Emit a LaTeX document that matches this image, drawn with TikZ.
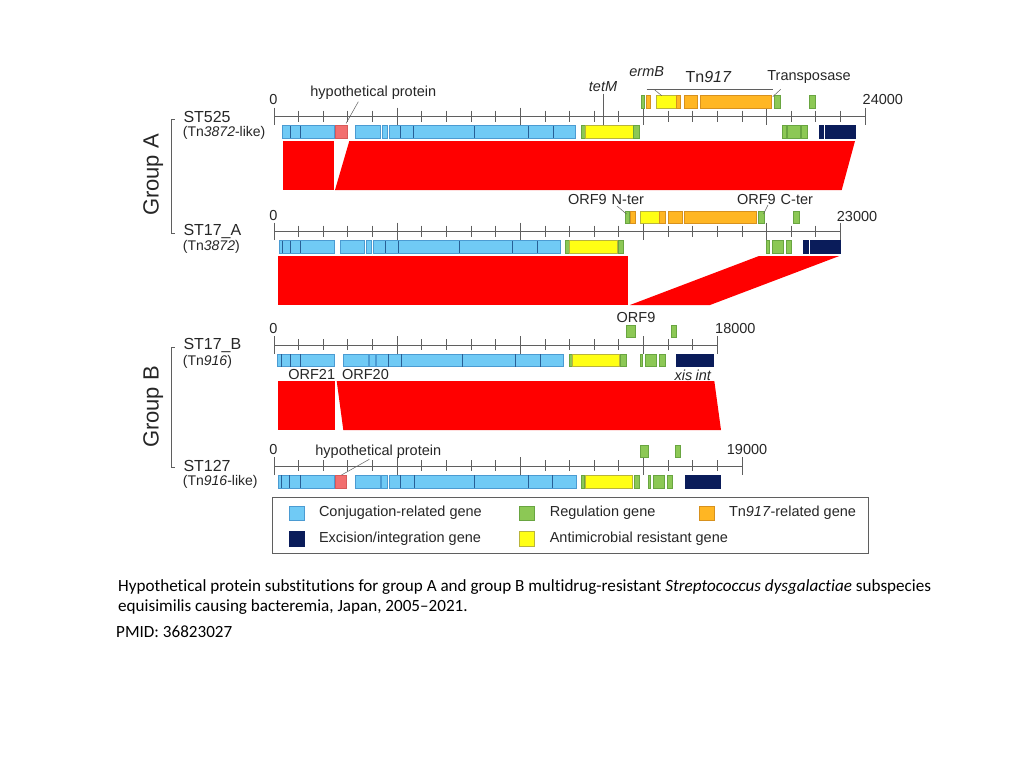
\documentclass[tikz,border=0pt]{standalone}
\usepackage{fontspec}
\setmainfont{Liberation Sans}
\newfontfamily\capfont[Ligatures=NoCommon]{Carlito}
\usepackage{tikz}

\definecolor{conjblue}{RGB}{112,202,245}
\definecolor{conjline}{RGB}{75,155,210}
\definecolor{conjdiv}{RGB}{40,95,150}
\definecolor{regulgreen}{RGB}{140,200,85}
\definecolor{regulline}{RGB}{105,165,65}
\definecolor{tnorange}{RGB}{255,182,35}
\definecolor{tnline}{RGB}{215,145,30}
\definecolor{resyellow}{RGB}{255,255,20}
\definecolor{resline}{RGB}{185,180,60}
\definecolor{excnavy}{RGB}{10,28,90}
\definecolor{hyposalmon}{RGB}{242,110,110}
\definecolor{hypoline}{RGB}{215,90,90}
\definecolor{bandred}{RGB}{255,0,0}
\definecolor{rulegray}{RGB}{95,95,95}

\tikzstyle{conj} = [fill=conjblue, draw=conjline, line width=0.6pt]
\tikzstyle{regul} = [fill=regulgreen, draw=regulline, line width=0.6pt]
\tikzstyle{tnrel} = [fill=tnorange, draw=tnline, line width=0.6pt]
\tikzstyle{resist} = [fill=resyellow, draw=resline, line width=0.6pt]
\tikzstyle{excis} = [fill=excnavy, draw=excnavy, line width=0.6pt]
\tikzstyle{hypo} = [fill=hyposalmon, draw=hypoline, line width=0.6pt]
\tikzstyle{divider} = [draw=conjdiv, line width=0.7pt]
\tikzstyle{homol} = [fill=bandred]
\tikzstyle{ruler} = [draw=rulegray, line width=0.8pt]
\tikzstyle{leader} = [draw=rulegray, line width=0.5pt]
\tikzstyle{lbl} = [inner sep=0pt, text=black!85, font=\fontsize{14.5}{17}\selectfont]
\tikzstyle{strain} = [inner sep=0pt, anchor=west, text=black!85, font=\fontsize{16}{18}\selectfont]
\tikzstyle{element} = [inner sep=0pt, anchor=west, text=black!85, font=\fontsize{14}{16}\selectfont]
\tikzstyle{group} = [inner sep=0pt, rotate=90, text=black!85, font=\fontsize{22}{24}\selectfont]
\tikzstyle{caption} = [inner sep=0pt, anchor=west, font=\capfont\fontsize{17.1}{20}\selectfont]

\newcommand{\genebox}[4]{\draw[#1] (#2,#4) rectangle (#3,#4+12.5);}

\begin{document}
\begin{tikzpicture}[x=1pt, y=-1pt]
\useasboundingbox (0,0) rectangle (1024,768);

% Rulers
\foreach \ry/\kb in {116.7/24, 231.7/23, 345/18, 466/19} {
  \draw[ruler] (274,\ry) -- ({274+\kb*24.63},\ry);
  \foreach \k in {0,...,\kb} {
    \pgfmathtruncatemacro\bigtick{(mod(\k,5)==0) || (\k==\kb)}
    \ifnum\bigtick=1
      \draw[ruler] ({274+\k*24.63},\ry-9) -- ({274+\k*24.63},\ry+8.5);
    \else
      \draw[ruler] ({274+\k*24.63},\ry-6) -- ({274+\k*24.63},\ry+5);
    \fi
  }
}

% Homology bands
\fill[homol] (283,141) rectangle (334.3,190);
\fill[homol] (349.3,141) -- (855,141) -- (841.7,190) -- (335,190) -- cycle;
\fill[homol] (278,256) rectangle (628.3,305);
\fill[homol] (759,256) -- (839.3,256) -- (710,305) -- (630,305) -- cycle;
\fill[homol] (278.3,381) rectangle (335,430);
\fill[homol] (336.7,381) -- (714.3,381) -- (721,430) -- (343.3,430) -- cycle;

% ST525
\genebox{conj}{282.3}{334.3}{125.7}
\genebox{hypo}{335.7}{347.3}{125.7}
\genebox{conj}{355.7}{380}{125.7}
\genebox{conj}{382.3}{387.3}{125.7}
\genebox{conj}{389}{575.7}{125.7}
\foreach \dx in {290.7, 300, 400.7, 413.3, 474.3, 528.3, 553.3}
  \draw[divider] (\dx,125.7) -- (\dx,138.2);
\genebox{regul}{581.7}{585.5}{125.7}
\genebox{resist}{585.5}{633.3}{125.7}
\genebox{regul}{633.3}{639}{125.7}
\genebox{regul}{782.3}{786}{125.7}
\genebox{regul}{787.3}{800}{125.7}
\genebox{regul}{801.7}{807.7}{125.7}
\genebox{excis}{819}{823.3}{125.7}
\genebox{excis}{825}{855.3}{125.7}
\genebox{regul}{641}{644}{95.7}
\genebox{tnrel}{646}{650.3}{95.7}
\genebox{resist}{656.3}{676}{95.7}
\genebox{tnrel}{676}{680.7}{95.7}
\genebox{tnrel}{684.3}{697.3}{95.7}
\genebox{tnrel}{700}{771.7}{95.7}
\genebox{regul}{774.3}{780}{95.7}
\genebox{regul}{809}{815.3}{95.7}

% ST17_A
\genebox{conj}{279.3}{334.3}{240.5}
\genebox{conj}{340}{364.3}{240.5}
\genebox{conj}{366}{371.7}{240.5}
\genebox{conj}{373.3}{560.7}{240.5}
\foreach \dx in {282.7, 290.7, 300, 385.7, 398.3, 459.3, 512.7, 537.7}
  \draw[divider] (\dx,240.5) -- (\dx,253);
\genebox{regul}{565.7}{569.3}{240.5}
\genebox{resist}{569.3}{617.3}{240.5}
\genebox{regul}{618.3}{623.3}{240.5}
\genebox{regul}{766}{769}{240.5}
\genebox{regul}{772.3}{783.3}{240.5}
\genebox{regul}{786}{791.7}{240.5}
\genebox{excis}{803.3}{808.3}{240.5}
\genebox{excis}{809.8}{840}{240.5}
\genebox{regul}{625}{629.3}{210.8}
\genebox{tnrel}{630}{635}{210.8}
\genebox{resist}{640.7}{659.3}{210.8}
\genebox{tnrel}{659.3}{665}{210.8}
\genebox{tnrel}{668.3}{682.7}{210.8}
\genebox{tnrel}{684}{756.7}{210.8}
\genebox{regul}{758.7}{764.3}{210.8}
\genebox{regul}{793.3}{799.3}{210.8}

% ST17_B
\genebox{conj}{277.3}{334.3}{354}
\genebox{conj}{343.3}{368.3}{354}
\genebox{conj}{369}{375.3}{354}
\genebox{conj}{376.5}{563.3}{354}
\foreach \dx in {281.7, 290, 300, 388.3, 401, 462.3, 515, 540}
  \draw[divider] (\dx,354) -- (\dx,366.5);
\genebox{regul}{569}{572.3}{354}
\genebox{resist}{572.3}{619.3}{354}
\genebox{regul}{620.7}{626.7}{354}
\genebox{regul}{640}{642.7}{354}
\genebox{regul}{645.7}{656.7}{354}
\genebox{regul}{659.3}{665.7}{354}
\genebox{excis}{676.7}{681.7}{354}
\genebox{excis}{682.7}{713.3}{354}
\genebox{regul}{626.7}{635}{324.8}
\genebox{regul}{671}{676.7}{324.8}

% ST127
\genebox{conj}{278.3}{334.3}{475.3}
\genebox{hypo}{335.7}{346.7}{475.3}
\genebox{conj}{355.7}{380}{475.3}
\genebox{conj}{381.7}{387.3}{475.3}
\genebox{conj}{389}{576}{475.3}
\foreach \dx in {281.7, 289.3, 300, 400.7, 414, 474, 528.3, 552.7}
  \draw[divider] (\dx,475.3) -- (\dx,487.8);
\genebox{regul}{581.7}{584.3}{475.3}
\genebox{resist}{585.7}{632.3}{475.3}
\genebox{regul}{634}{639}{475.3}
\genebox{regul}{648.3}{650.7}{475.3}
\genebox{regul}{653.3}{664.3}{475.3}
\genebox{regul}{667.3}{672.7}{475.3}
\genebox{excis}{685}{689}{475.3}
\genebox{excis}{690.7}{720.7}{475.3}
\genebox{regul}{640.7}{648.3}{445}
\genebox{regul}{675}{680.7}{445}

% Scale labels
\node[lbl] (zeroA1) at (273.5,100) {0};
\node[lbl] (zeroA2) at (273.5,216) {0};
\node[lbl] (zeroB1) at (273.5,329) {0};
\node[lbl] (zeroB2) at (273.5,450) {0};
\node[lbl, anchor=west] (endA1) at (862.5,100) {24000};
\node[lbl, anchor=west] (endA2) at (836.7,217) {23000};
\node[lbl, anchor=west] (endB1) at (715,329) {18000};
\node[lbl, anchor=west] (endB2) at (726.7,450) {19000};

% Gene labels
\node[lbl] (hypA) at (373.3,92.3) {hypothetical protein};
\draw[leader] (358.3,101.7) -- (346,123.5);
\node[lbl] (tetm) at (603,86.7) {\textit{tetM}};
\draw[leader] (603.3,93.5) -- (603.3,125);
\node[lbl] (ermb) at (646.7,71.7) {\textit{ermB}};
\draw[leader] (654,89.3) -- (661.7,95.7);
\node[lbl, font=\fontsize{16}{18}\selectfont] (tn917) at (708.5,76.7) {Tn\textit{917}};
\draw[leader] (646.7,89.3) -- (772.7,89.3);
\node[lbl] (transp) at (809,76.7) {Transposase};
\draw[leader] (780.7,89.3) -- (772.7,96.7);
\node[lbl] (orfn) at (606,200) {ORF9\hspace{5pt}N-ter};
\draw[leader] (617,206) -- (626.5,214);
\node[lbl] (orfc) at (775,200) {ORF9\hspace{5pt}C-ter};
\draw[leader] (768,205) -- (763.5,214);
\node[lbl] (orfb) at (636,317.3) {ORF9};
\node[lbl] (xis) at (683.5,375) {\textit{xis}};
\node[lbl] (int) at (703.5,375) {\textit{int}};
\node[lbl] (orf21) at (311.7,375) {ORF21};
\node[lbl] (orf20) at (365.5,375) {ORF20};
\node[lbl] (hypB) at (378.3,451.7) {hypothetical protein};
\draw[leader] (369.3,459.3) -- (341.5,475);

% Strains and groups
\node[strain] (st525) at (183.3,116.7) {ST525};
\node[element] (tn3872l) at (182.7,133) {(Tn\textit{3872}-like)};
\node[strain] (st17a) at (183.3,231.7) {ST17\_A};
\node[element] (tn3872) at (182.7,246.7) {(Tn\textit{3872})};
\node[strain] (st17b) at (183.3,345) {ST17\_B};
\node[element] (tn916) at (182.7,361.5) {(Tn\textit{916})};
\node[strain] (st127) at (183.3,466) {ST127};
\node[element] (tn916l) at (182.7,481.5) {(Tn\textit{916}-like)};
\draw[leader] (174.5,119.3) -- (171.7,119.3) -- (171.7,233.3) -- (174.5,233.3);
\draw[leader] (174.5,347) -- (171.7,347) -- (171.7,467) -- (174.5,467);
\node[group] (grpA) at (153.3,175) {Group A};
\node[group] (grpB) at (153.3,407) {Group B};

% Legend
\draw[draw=rulegray, line width=0.8pt] (272,497) rectangle (868,553);
\draw[conj] (289.2,506) rectangle (303.8,520.6);
\node[element, font=\fontsize{14.5}{17}\selectfont] (lgconj) at (318.8,513) {Conjugation-related gene};
\draw[regul] (519.2,506) rectangle (533.8,520.6);
\node[element, font=\fontsize{14.5}{17}\selectfont] (lgregul) at (549.6,513) {Regulation gene};
\draw[tnrel] (699.6,506) rectangle (714.2,520.6);
\node[element, font=\fontsize{14.5}{17}\selectfont] (lgtn) at (728.8,513) {Tn\textit{917}-related gene};
\draw[excis] (289.2,531.7) rectangle (303.8,546.3);
\node[element, font=\fontsize{14.5}{17}\selectfont] (lgexcis) at (318.8,539) {Excision/integration gene};
\draw[resist] (519.2,531.7) rectangle (533.8,546.3);
\node[element, font=\fontsize{14.5}{17}\selectfont] (lgres) at (549.6,539) {Antimicrobial resistant gene};

% Caption
\node[caption] (cap1) at (118,587) {Hypothetical protein substitutions for group A and group B multidrug-resistant \textit{Streptococcus dysgalactiae} subspecies};
\node[caption] (cap2) at (118,607) {equisimilis causing bacteremia, Japan, 2005–2021.};
\node[caption] (cap3) at (116,632) {PMID: 36823027};

\end{tikzpicture}
\end{document}
